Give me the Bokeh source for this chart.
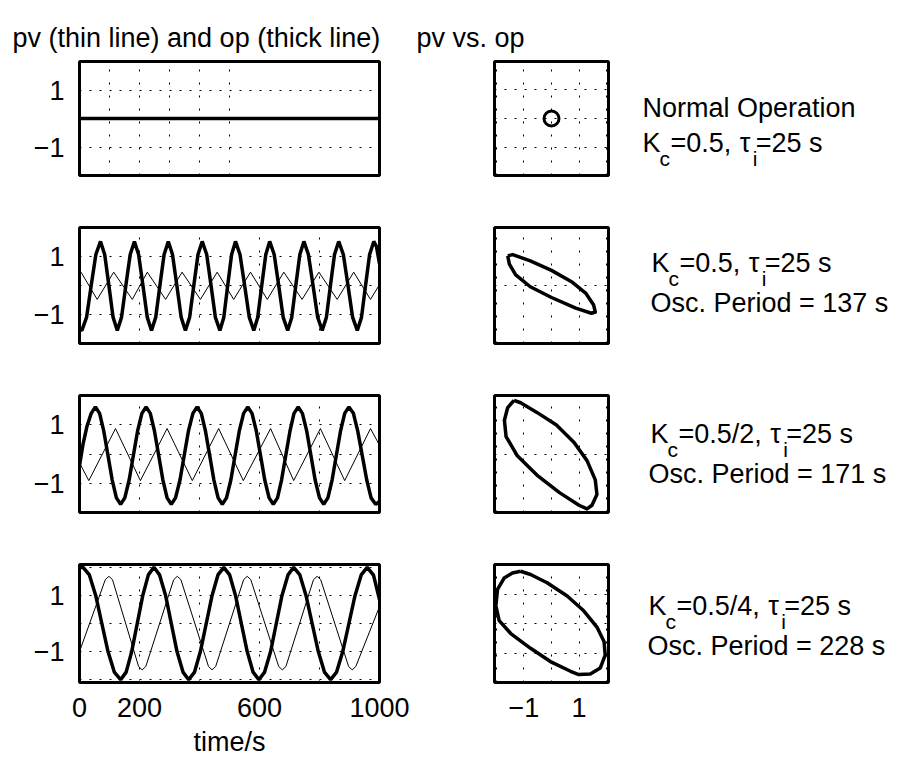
from bokeh.plotting import figure
from bokeh.layouts import column, row as bk_row
from bokeh.models import Range1d, FixedTicker
from bokeh.embed import file_html
from bokeh.resources import INLINE
from bokeh.core.properties import value

FONT = "Liberation Sans"
FS = "27px"
SUB = "21px"
MINUS = "\u2212"

# ---------------- data ----------------
# Row 1: normal operation
t_row1 = [0, 1000]
op_row1 = [0.0, 0.0]
pv_row1 = [0.0, 0.0]
loop_op1 = [0.0]
loop_pv1 = [0.0]

# Row 2: Kc=0.5
t_op2 = [0, 8, 23.5, 39, 54.5, 70, 84, 98, 112, 126, 140, 154.5, 169, 183, 197, 211.5, 226, 240,
         254, 268, 282, 296, 310, 324.5, 339, 353, 367, 381, 395, 409, 424, 438.5, 453, 468,
         481, 494, 507, 520, 535, 550.5, 566, 581, 594, 607.5, 621, 634, 649, 664, 679, 694,
         707.5, 721, 734.5, 748, 763, 778.5, 794, 809, 823, 836.5, 850, 864, 879.5, 895, 910.5, 926,
         940, 953.5, 967, 981, 990, 1000]
op2 = [-1.50, -1.55,
       -1.10, 0.0, 1.07, 1.52, 1.07, 0.0, -1.10, -1.55,
       -1.10, 0.0, 1.07, 1.52, 1.07, 0.0, -1.10, -1.55,
       -1.10, 0.0, 1.07, 1.52, 1.07, 0.0, -1.10, -1.55,
       -1.10, 0.0, 1.07, 1.52, 1.07, 0.0, -1.10, -1.55,
       -1.10, 0.0, 1.07, 1.52, 1.07, 0.0, -1.10, -1.55,
       -1.10, 0.0, 1.07, 1.52, 1.07, 0.0, -1.10, -1.55,
       -1.10, 0.0, 1.07, 1.52, 1.07, 0.0, -1.10, -1.55,
       -1.10, 0.0, 1.07, 1.52, 1.07, 0.0, -1.10, -1.55,
       -1.10, 0.0, 1.07, 1.52,
       1.34, 0.75]
t_pv2 = [0, 5, 59, 114, 176, 226, 287, 342, 403, 459, 514, 570, 626, 681, 742, 798, 859, 914, 970, 1000]
pv2 = [0.40, 0.46, -0.48, 0.46, -0.48, 0.46, -0.48, 0.46, -0.48, 0.46, -0.48, 0.46, -0.48, 0.46,
       -0.48, 0.46, -0.48, 0.46, -0.48, 0.03]
loop_op2 = [-1.59, -1.41, -0.77, 0.0, 0.76, 1.24, 1.53, 1.59, 1.45, 0.88, 0.0, -0.77, -1.30, -1.53, -1.59]
loop_pv2 = [0.47, 0.49, 0.39, 0.24, 0.05, -0.12, -0.31, -0.42, -0.44, -0.36, -0.19, -0.02, 0.17, 0.34, 0.47]

# Row 3: Kc=0.5/2
t_op3 = [0, 12, 25, 39, 53,
         67, 81, 95, 109, 123, 137,
         151, 165.5, 179.5, 193.5, 208, 222,
         236, 250, 264, 278, 292, 306,
         320, 335, 349, 363, 378, 392,
         406, 420, 434, 448, 462, 476,
         490, 504.5, 518.5, 532.5, 547, 561,
         575, 589.5, 603.5, 617.5, 632, 646,
         660, 673.5, 687.5, 701.5, 715, 729,
         743, 757.5, 771.5, 785.5, 800, 814,
         828, 842, 856, 870, 884, 898,
         913, 927.5, 942.5, 957.5, 972, 987,
         1000]
op3 = [-0.40, 0.35, 0.95, 1.39, 1.61,
       1.39, 0.78, -0.05, -0.89, -1.50, -1.72,
       -1.50, -0.89, -0.05, 0.78, 1.39, 1.61,
       1.39, 0.78, -0.05, -0.89, -1.50, -1.72,
       -1.50, -0.89, -0.05, 0.78, 1.39, 1.61,
       1.39, 0.78, -0.05, -0.89, -1.50, -1.72,
       -1.50, -0.89, -0.05, 0.78, 1.39, 1.61,
       1.39, 0.78, -0.05, -0.89, -1.50, -1.72,
       -1.50, -0.89, -0.05, 0.78, 1.39, 1.61,
       1.39, 0.78, -0.05, -0.89, -1.50, -1.72,
       -1.50, -0.89, -0.05, 0.78, 1.39, 1.61,
       1.39, 0.78, -0.05, -0.89, -1.50, -1.72,
       -1.62]
t_pv3 = [0, 31, 120, 203, 292, 376, 464, 546, 637, 714, 803, 884, 970, 1000]
pv3 = [-0.30, -0.91, 0.87, -0.91, 0.87, -0.91, 0.87, -0.91, 0.87, -0.91, 0.87, -0.91, 0.87, 0.30]
loop_op3 = [-1.36, -1.12, -0.53, 0.18, 0.82, 1.29, 1.59, 1.65, 1.47, 1.29, 1.0, 0.29, -0.53, -1.24,
            -1.65, -1.71, -1.59, -1.36]
loop_pv3 = [0.89, 0.85, 0.69, 0.48, 0.19, -0.11, -0.43, -0.67, -0.85, -0.91, -0.85, -0.64, -0.35, -0.03,
            0.29, 0.56, 0.77, 0.89]

# Row 4: Kc=0.5/4
t_op4 = [0, 12,
         33, 54, 74.5, 95, 116, 137,
         155.5, 174, 192.5, 211, 229.5, 248,
         267, 287, 306, 325, 345, 364,
         383.5, 403, 422.5, 442, 461.5, 481,
         500.5, 520, 539.5, 559, 578.5, 598,
         617, 637, 656, 675, 695, 714,
         734.5, 755, 775.5, 796, 816.5, 837,
         857, 877.5, 898, 918.5, 939, 959,
         980, 1000]
op4 = [1.98, 2.0,
       1.73, 1.0, 0.0, -1.0, -1.73, -2.0,
       -1.73, -1.0, 0.0, 1.0, 1.73, 2.0,
       1.73, 1.0, 0.0, -1.0, -1.73, -2.0,
       -1.73, -1.0, 0.0, 1.0, 1.73, 2.0,
       1.73, 1.0, 0.0, -1.0, -1.73, -2.0,
       -1.73, -1.0, 0.0, 1.0, 1.73, 2.0,
       1.73, 1.0, 0.0, -1.0, -1.73, -2.0,
       -1.73, -1.0, 0.0, 1.0, 1.73, 2.0,
       1.72, 0.85]
t_pv4 = [0, 86, 98, 110, 197, 209, 221, 314, 326, 338, 430, 442, 454, 547, 559, 571,
         664, 676, 688, 780, 792, 804, 897, 909, 921, 1000]
pv4 = [-1.0, 1.56, 1.68, 1.56, -1.53, -1.65, -1.53, 1.56, 1.68, 1.56, -1.53, -1.65, -1.53,
       1.56, 1.68, 1.56, -1.53, -1.65, -1.53, 1.56, 1.68, 1.56, -1.53, -1.65, -1.53, 0.6]
loop_op4 = [-1.12, -0.76, -0.16, 0.57, 1.17, 1.65, 1.91, 1.95, 1.77, 1.41, 0.99, 0.69, -0.04, -0.76,
            -1.48, -1.90, -2.02, -1.96, -1.72, -1.42, -1.12]
loop_pv4 = [1.77, 1.66, 1.38, 0.93, 0.43, -0.12, -0.62, -1.07, -1.51, -1.71, -1.73, -1.62, -1.29, -0.84,
            -0.34, 0.10, 0.60, 1.16, 1.54, 1.71, 1.77]

# axis ticks / labels
time_ticks_row1 = [100, 200, 300, 400, 500]
time_ticks = [0, 200, 400, 600, 800, 1000]
time_labels = {0: "0", 200: "200", 400: "", 600: "600", 800: "", 1000: "1000"}
level_ticks = [-2, -1, 0, 1, 2]
level_labels = {-2: "", -1: MINUS + "1", 0: "", 1: "1", 2: ""}

titles = ["pv (thin line) and op (thick line)", "pv vs. op"]
kc_texts = ["=0.5, ", "=0.5, ", "=0.5/2, ", "=0.5/4, "]
period_texts = [None, "Osc. Period = 137 s", "Osc. Period = 171 s", "Osc. Period = 228 s"]

# ---------------- helpers ----------------
W = {'K': 0.667, '=': 0.584, '0': 0.556, '5': 0.556, '2': 0.556, '4': 0.556, '.': 0.278,
     ',': 0.278, ' ': 0.278, '/': 0.278, 's': 0.5, '\u03c4': 0.44, 'c': 0.5, 'i': 0.222}


def wid(s, size):
    return sum(W.get(ch, 0.556) for ch in s) * size


def style_axis(ax, ticks, labels):
    ax.ticker = FixedTicker(ticks=ticks)
    ax.axis_line_color = None
    ax.major_tick_line_color = None
    ax.minor_tick_line_color = None
    ax.major_label_text_font = FONT
    ax.major_label_text_font_size = FS
    ax.major_label_text_color = "black"
    ax.major_label_standoff = 9
    if labels is None:
        ax.visible = False
    else:
        ax.major_label_overrides = {k: labels.get(k, "") for k in ticks}


def panel(w, h, xr, yr, mb, xticks, yticks, xlabels=None, ylabels=None, title=None, title_offset=0):
    kw = {}
    if title is None:
        kw["title_location"] = None
    else:
        kw["title"] = title
    p = figure(width=w, height=h, x_range=Range1d(*xr), y_range=Range1d(*yr),
               output_backend="svg", toolbar_location=None,
               min_border_left=mb[0], min_border_right=mb[1],
               min_border_top=mb[2], min_border_bottom=mb[3],
               background_fill_color="white", border_fill_color="white", **kw)
    if title is not None:
        p.title.text_font = FONT
        p.title.text_font_size = FS
        p.title.text_font_style = "normal"
        p.title.text_color = "black"
        p.title.align = "left"
        p.title.offset = title_offset
        p.title.standoff = 18
    p.outline_line_color = "black"
    p.outline_line_width = 3
    style_axis(p.xaxis[0], xticks, xlabels)
    style_axis(p.yaxis[0], yticks, ylabels)
    p.xgrid.ticker = FixedTicker(ticks=xticks)
    p.ygrid.ticker = FixedTicker(ticks=yticks)
    p.xgrid.grid_line_color = "black"
    p.xgrid.grid_line_dash = "2 11"
    p.xgrid.grid_line_width = 1
    p.ygrid.grid_line_color = "black"
    p.ygrid.grid_line_dash = "2 8"
    p.ygrid.grid_line_width = 1
    return p


def text_fig(w, h, x0, mb, row_top, items):
    # frame occupies the same vertical band as the panels in the row (frames are aligned)
    f_top = row_top + mb[2]
    f_bot = row_top + h - mb[3]
    p = figure(width=w, height=h, x_range=Range1d(x0, x0 + w), y_range=Range1d(f_bot, f_top),
               output_backend="svg", toolbar_location=None, title_location=None,
               min_border_left=0, min_border_right=0, min_border_top=mb[2], min_border_bottom=mb[3],
               outline_line_color=None, background_fill_color="white", border_fill_color="white")
    p.xaxis.visible = False
    p.yaxis.visible = False
    p.grid.visible = False
    for (x, y, s, size) in items:
        p.text(x=[x], y=[y], text=[s], text_font=value(FONT), text_font_size=size,
               text_baseline="alphabetic", text_align="left", text_color="black")
    return p


def k_line(x0, yb, kc):
    fs = 27
    items = [(x0, yb, "K", FS), (x0 + 17, yb + 16, "c", SUB)]
    xe = x0 + 28
    items.append((xe, yb, kc, FS))
    xt = xe + wid(kc, fs) + 1
    items.append((xt, yb, "\u03c4", FS))
    xi = xt + wid("\u03c4", fs) + 1
    items.append((xi, yb + 16, "i", SUB))
    items.append((xi + 3, yb, "=25 s", FS))
    return items


# ---------------- layout geometry ----------------
row_tops = [0, 200, 370, 540]
row_h = [200, 170, 170, 222]
mbs = [(61, 25), (27, 27), (25, 28), (24, 80)]          # top / bottom border of each row
left_yr = [(-2.0, 2.0), (-2.0, 2.0), (-2.0, 2.0), (-2.1, 2.1)]
right_yr = [(-1.95, 1.95), (-0.92, 0.92), (-0.97, 0.97), (-2.0, 2.0)]

series = [
    (t_row1, op_row1, t_row1, pv_row1, loop_op1, loop_pv1),
    (t_op2, op2, t_pv2, pv2, loop_op2, loop_pv2),
    (t_op3, op3, t_pv3, pv3, loop_op3, loop_pv3),
    (t_op4, op4, t_pv4, pv4, loop_op4, loop_pv4),
]

text_pos = [
    [(642, 107, "Normal Operation", FS)] + k_line(642, 142, kc_texts[0]),
    k_line(651, 262, kc_texts[1]) + [(650, 302, period_texts[1], FS)],
    k_line(650, 433, kc_texts[2]) + [(648, 473, period_texts[2], FS)],
    k_line(648, 605, kc_texts[3]) + [(647, 645, period_texts[3], FS)],
]

rows = []
for i in range(4):
    t_op, op, t_pv, pv, lop, lpv = series[i]
    last = (i == 3)
    top_b, bot_b = mbs[i]
    lp = panel(410, row_h[i], (0, 1000), left_yr[i], (79, 31, top_b, bot_b),
               time_ticks_row1 if i == 0 else time_ticks, level_ticks,
               xlabels=time_labels if last else None, ylabels=level_labels,
               title=titles[0] if i == 0 else None, title_offset=12 - 79)
    lp.line(t_pv, pv, line_color="black", line_width=1)
    lp.line(t_op, op, line_color="black", line_width=3.5)
    if last:
        ax = lp.xaxis[0]
        ax.axis_label = "time/s"
        ax.axis_label_text_font = FONT
        ax.axis_label_text_font_size = FS
        ax.axis_label_text_font_style = "normal"
        ax.axis_label_text_color = "black"
        ax.axis_label_standoff = 7

    rp = panel(230, row_h[i], (-2.07, 2.07), right_yr[i], (84, 32, top_b, bot_b),
               level_ticks, level_ticks,
               xlabels=level_labels if last else None, ylabels=None,
               title=titles[1] if i == 0 else None, title_offset=416 - 494)
    if i == 0:
        rp.scatter(lop, lpv, marker="circle", size=15, fill_color=None,
                   line_color="black", line_width=3)
    else:
        rp.line(lop, lpv, line_color="black", line_width=3.5, line_join="round")

    tp = text_fig(258, row_h[i], 640, (0, 0, top_b, bot_b), row_tops[i], text_pos[i])
    rows.append(bk_row(lp, rp, tp))

layout = column(*rows)
open("out.html", "w").write(file_html(layout, INLINE))
